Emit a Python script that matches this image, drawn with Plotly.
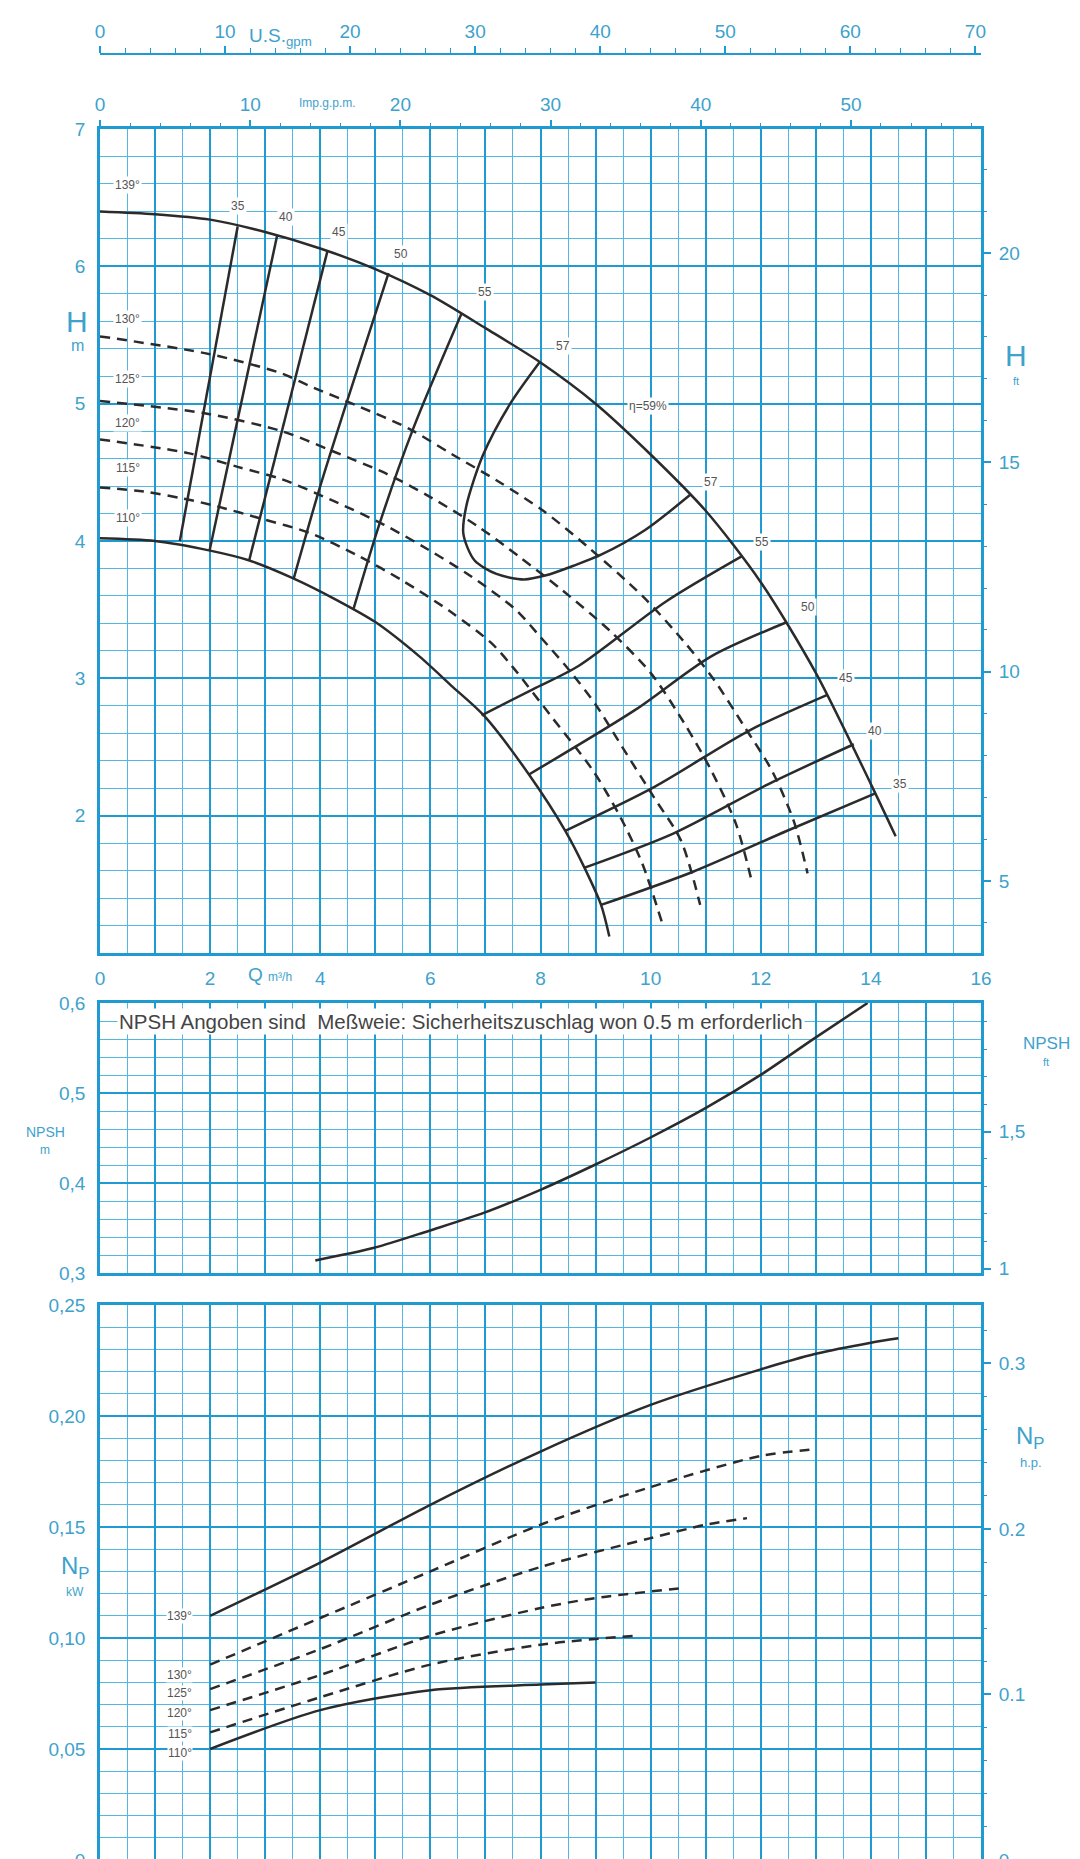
import plotly.graph_objects as go

W, H = 1080, 1859
OFF = 8  # page body margin in the browser

# ---- H-Q curves (Q in m3/h, H in m) ----
dia_labels = ['139°', '130°', '125°', '120°', '115°', '110°']
dia_label_h = [6.59, 5.62, 5.18, 4.86, 4.53, 4.17]

q_139 = [0, 1, 2, 3, 4, 5, 6, 7, 8, 9, 10, 11, 12, 13, 14, 14.45]
h_139 = [6.40, 6.38, 6.34, 6.25, 6.13, 5.98, 5.79, 5.55, 5.30, 5.00, 4.63, 4.22, 3.70, 3.04, 2.23, 1.85]

q_130 = [0, 2, 3.3, 3.8, 4.7, 5.6, 6.4, 7.25, 8.05, 8.85, 9.85, 10.6, 11.15, 11.7, 12.2, 12.6, 12.85]
h_130 = [5.49, 5.36, 5.22, 5.13, 4.98, 4.82, 4.63, 4.43, 4.22, 3.96, 3.60, 3.27, 2.99, 2.65, 2.33, 1.96, 1.58]

q_125 = [0, 1.9, 3.3, 4.25, 5.2, 6.0, 6.85, 7.6, 8.4, 9.25, 10.0, 10.6, 11.1, 11.55, 11.85]
h_125 = [5.02, 4.93, 4.80, 4.65, 4.49, 4.32, 4.11, 3.89, 3.64, 3.35, 3.04, 2.68, 2.33, 1.94, 1.50]

q_120 = [0, 1.6, 2.5, 3.3, 4.25, 5.15, 5.95, 6.75, 7.55, 8.0, 8.5, 9.0, 9.5, 10.05, 10.55, 10.9]
h_120 = [4.74, 4.64, 4.54, 4.45, 4.29, 4.12, 3.94, 3.74, 3.50, 3.30, 3.07, 2.81, 2.49, 2.14, 1.82, 1.35]

q_115 = [0, 0.8, 1.5, 2.05, 2.95, 3.8, 4.7, 5.5, 6.35, 7.1, 7.5, 8.2, 8.95, 9.45, 9.85, 10.2]
h_115 = [4.39, 4.36, 4.31, 4.26, 4.16, 4.06, 3.89, 3.71, 3.49, 3.26, 3.08, 2.72, 2.33, 1.99, 1.65, 1.23]

q_110 = [0, 1, 2, 2.7, 3.5, 4.3, 5.0, 5.8, 6.4, 6.97, 7.79, 8.45, 8.8, 9.1, 9.25]
h_110 = [4.02, 4.00, 3.93, 3.86, 3.73, 3.57, 3.41, 3.16, 2.94, 2.73, 2.30, 1.89, 1.62, 1.35, 1.12]

# ---- iso-efficiency lines ----
eta_left_q = [[2.5, 1.45], [3.22, 1.99], [4.13, 2.71], [5.24, 4.48, 4.0, 3.52], [6.57, 5.69, 5.08, 4.6]]
eta_left_h = [[6.29, 4.0], [6.23, 3.93], [6.11, 3.86], [5.95, 5.01, 4.40, 3.73], [5.66, 4.82, 4.13, 3.50]]
eta_right_q = [[9.1, 10.76, 12.48, 14.07], [8.79, 10.41, 12.14, 13.69], [8.45, 10.07, 11.79, 13.21],
               [7.79, 9.72, 11.1, 12.48], [6.93, 7.86, 8.69, 10.28, 11.66]]
eta_right_h = [[1.35, 1.59, 1.89, 2.16], [1.62, 1.87, 2.23, 2.52], [1.89, 2.21, 2.62, 2.88],
               [2.30, 2.77, 3.16, 3.41], [2.73, 2.92, 3.09, 3.56, 3.89]]
q_57 = [7.98, 7.45, 6.95, 6.65, 6.6, 6.8, 7.2, 7.7, 8.1, 8.6, 9.1, 9.9, 10.73]
h_57 = [5.30, 5.00, 4.62, 4.25, 4.05, 3.86, 3.76, 3.72, 3.75, 3.82, 3.90, 4.08, 4.34]

eta_tag_text = ['35', '40', '45', '50', '55', '57', 'η=59%', '57', '55', '50', '45', '40', '35']
eta_tag_q = [2.5, 3.37, 4.34, 5.47, 7.0, 8.4, 9.96, 11.1, 12.03, 12.86, 13.55, 14.07, 14.52]
eta_tag_h = [6.44, 6.36, 6.25, 6.09, 5.81, 5.42, 4.98, 4.43, 3.99, 3.52, 3.0, 2.62, 2.23]

# ---- NPSH (m) ----
npsh_q = [3.91, 4.98, 5.98, 6.98, 8.02, 8.98, 9.98, 11.02, 12.02, 12.98, 13.94]
npsh_m = [0.314, 0.328, 0.347, 0.367, 0.393, 0.42, 0.45, 0.484, 0.521, 0.561, 0.6]
npsh_note = 'NPSH Angoben sind  Meßweie: Sicherheitszuschlag won 0.5 m erforderlich'

# ---- power (kW) ----
p_q_139 = [2, 4, 6, 8, 10, 12, 13, 14, 14.5]
p_139 = [0.110, 0.134, 0.160, 0.184, 0.205, 0.221, 0.228, 0.233, 0.235]
p_q_130 = [2, 4, 6, 8, 10, 12, 13]
p_130 = [0.088, 0.109, 0.130, 0.151, 0.168, 0.182, 0.185]
p_q_125 = [2, 4, 6, 8, 10, 11, 11.75]
p_125 = [0.077, 0.095, 0.115, 0.132, 0.145, 0.151, 0.154]
p_q_120 = [2, 4, 6, 8, 9, 10.6]
p_120 = [0.0675, 0.0833, 0.1010, 0.1135, 0.118, 0.1225]
p_q_115 = [2, 4, 6, 8, 9.7]
p_115 = [0.0575, 0.0733, 0.0880, 0.0970, 0.101]
p_q_110 = [2, 4, 6, 8, 9]
p_110 = [0.050, 0.0675, 0.0765, 0.0790, 0.080]
p_label_n = [0.110, 0.0833, 0.0753, 0.066, 0.0567, 0.0483]

# ---- axis ticks ----
q_ticks = list(range(17))
q_ticktext = [str(v) if v % 2 == 0 else '' for v in q_ticks]
h_ticks = [2, 3, 4, 5, 6, 7]
h_ft_ticks = [5, 10, 15, 20]
us_ticks = [0, 10, 20, 30, 40, 50, 60, 70]
imp_ticks = [0, 10, 20, 30, 40, 50]
npsh_ticks = [0.3, 0.4, 0.5, 0.6]
npsh_text = ['0,3', '0,4', '0,5', '0,6']
npsh_ft_ticks = [1, 1.5]
npsh_ft_text = ['1', '1,5']
kw_ticks = [0, 0.05, 0.10, 0.15, 0.20, 0.25]
kw_text = ['0', '0,05', '0,10', '0,15', '0,20', '0,25']
hp_ticks = [0, 0.1, 0.2, 0.3]
hp_text = ['0', '0.1', '0.2', '0.3']

M3H_TO_USGPM = 4.4029
M3H_TO_IMPGPM = 3.6662
M_TO_FT = 3.28084
KW_TO_HP = 1 / 0.7457

ink = '#2b2b2b'
blue_txt = '#3ea2cc'
grid_major = '#1f9bd2'
grid_minor = '#52b8e3'
frame = '#1f9bd2'
FONT = 'Liberation Sans'


def pxx(p):
    return (p - OFF) / W


def pyy(p):
    return 1 - (p - OFF) / H


xdom = [pxx(100), pxx(981)]
main_dom = [pyy(953), pyy(129)]
npsh_dom = [pyy(1273), pyy(1003)]
pow_dom = [max(0, pyy(1860)), pyy(1305)]

fig = go.Figure()


def curve(x, y, xa, ya, dash='solid'):
    fig.add_trace(go.Scatter(x=x, y=y, mode='lines', xaxis=xa, yaxis=ya, hoverinfo='skip',
                             line=dict(color=ink, width=2.5, shape='spline', smoothing=0.8,
                                       dash=dash)))


def anchor_trace(x, y, xa, ya):
    # invisible points so the secondary scales get drawn
    fig.add_trace(go.Scatter(x=x, y=y, mode='markers', xaxis=xa, yaxis=ya, hoverinfo='skip',
                             marker=dict(opacity=0, size=1)))


dash_pat = '10px,7px'
curve(q_139, h_139, 'x', 'y')
curve(q_110, h_110, 'x', 'y')
for q, h in [(q_130, h_130), (q_125, h_125), (q_120, h_120), (q_115, h_115)]:
    curve(q, h, 'x', 'y', dash_pat)
for q, h in zip(eta_left_q, eta_left_h):
    curve(q, h, 'x', 'y')
for q, h in zip(eta_right_q, eta_right_h):
    curve(q, h, 'x', 'y')
curve(q_57, h_57, 'x', 'y')

curve(npsh_q, npsh_m, 'x4', 'y3')

curve(p_q_139, p_139, 'x5', 'y5')
curve(p_q_110, p_110, 'x5', 'y5')
for q, p in [(p_q_130, p_130), (p_q_125, p_125), (p_q_120, p_120), (p_q_115, p_115)]:
    curve(q, p, 'x5', 'y5', dash_pat)

anchor_trace([0, 16 * M3H_TO_IMPGPM], [4, 4], 'x2', 'y')
anchor_trace([0, 16 * M3H_TO_USGPM], [4, 4], 'x3', 'y')
anchor_trace([1, 1], [1 * M_TO_FT, 7 * M_TO_FT], 'x', 'y2')
anchor_trace([1, 1], [0.3 / 0.3048, 0.6 / 0.3048], 'x4', 'y4')
anchor_trace([1, 1], [0, 0.25 * KW_TO_HP], 'x5', 'y6')

tickfont = dict(family=FONT, size=19, color=blue_txt)


def q_axis(anchor, labels=False):
    return dict(domain=xdom, anchor=anchor, range=[0, 16], tickvals=q_ticks,
                ticktext=q_ticktext, showticklabels=labels, ticks='', tickfont=tickfont,
                ticklabelstandoff=6,
                showgrid=True, gridcolor=grid_major, gridwidth=2,
                minor=dict(tick0=0, dtick=0.5, showgrid=True, gridcolor=grid_minor, gridwidth=1),
                showline=True, mirror=True, linecolor=frame, linewidth=2.5,
                zeroline=False, automargin=False)


def val_axis(dom, anchor, rng, tickvals, ticktext, minor_dtick):
    return dict(domain=dom, anchor=anchor, range=rng, tickvals=tickvals, ticktext=ticktext,
                ticks='', tickfont=tickfont, ticklabelstandoff=8, ticklabeloverflow='allow',
                showgrid=True, gridcolor=grid_major, gridwidth=2,
                minor=dict(tick0=rng[0], dtick=minor_dtick, showgrid=True,
                           gridcolor=grid_minor, gridwidth=1),
                showline=True, mirror=True, linecolor=frame, linewidth=2.5,
                zeroline=False, automargin=False)


def side_axis(over, rng, tickvals, ticktext, minor_dtick, side='right', ticklen=9, standoff=4):
    return dict(overlaying=over, side=side, range=rng, tickvals=tickvals, ticktext=ticktext,
                ticks='outside', ticklen=ticklen, tickwidth=1.5, tickcolor=frame,
                tickfont=tickfont, ticklabelstandoff=standoff, ticklabeloverflow='allow',
                minor=dict(tick0=0, dtick=minor_dtick, ticks='outside', ticklen=5,
                           tickwidth=1, tickcolor=frame),
                showgrid=False, zeroline=False, showline=False, automargin=False)


fig.update_layout(
    width=W, height=H, autosize=False,
    margin=dict(l=0, r=0, t=0, b=0, pad=0),
    paper_bgcolor='white', plot_bgcolor='white',
    separators=',.', showlegend=False,
    font=dict(family=FONT, color=blue_txt),
    xaxis=q_axis('y', labels=True),
    yaxis=val_axis(main_dom, 'x', [1, 7], h_ticks, [str(v) for v in h_ticks], 0.2),
    yaxis2=dict(side_axis('y', [1 * M_TO_FT, 7 * M_TO_FT], h_ft_ticks,
                          [str(v) for v in h_ft_ticks], 1), anchor='x'),
    xaxis2=dict(side_axis('x', [0, 16 * M3H_TO_IMPGPM], imp_ticks,
                          [str(v) for v in imp_ticks], 2, side='top', ticklen=8, standoff=1),
                anchor='y', domain=xdom),
    xaxis3=dict(side_axis('x', [0, 16 * M3H_TO_USGPM], us_ticks,
                          [str(v) for v in us_ticks], 2, side='top', ticklen=7, standoff=0),
                anchor='free', position=pyy(54), domain=xdom,
                showline=True, linecolor=frame, linewidth=2),
    xaxis4=q_axis('y3'),
    yaxis3=val_axis(npsh_dom, 'x4', [0.3, 0.6], npsh_ticks, npsh_text, 0.02),
    yaxis4=dict(side_axis('y3', [0.3 / 0.3048, 0.6 / 0.3048], npsh_ft_ticks,
                          npsh_ft_text, 0.1), anchor='x4'),
    xaxis5=q_axis('y5'),
    yaxis5=val_axis(pow_dom, 'x5', [0, 0.25], kw_ticks, kw_text, 0.01),
    yaxis6=dict(side_axis('y5', [0, 0.25 * KW_TO_HP], hp_ticks, hp_text, 0.02), anchor='x5'),
)

ann = []
lab = dict(family=FONT, size=12, color='#555555')
for t, h in zip(dia_labels, dia_label_h):
    ann.append(dict(x=0.5, y=h, xref='x', yref='y', text=t, showarrow=False,
                    font=lab, bgcolor='white', borderpad=1))
for t, q, h in zip(eta_tag_text, eta_tag_q, eta_tag_h):
    ann.append(dict(x=q, y=h, xref='x', yref='y', text=t, showarrow=False,
                    font=lab, bgcolor='white', borderpad=1))
for t, n in zip(dia_labels, p_label_n):
    ann.append(dict(x=1.45, y=n, xref='x5', yref='y5', text=t, showarrow=False,
                    font=lab, bgcolor='white', borderpad=0))
ann.append(dict(x=0.3, y=0.579, xref='x4', yref='y3', text=npsh_note, showarrow=False,
                xanchor='left', font=dict(family=FONT, size=20.5, color='#444444'),
                bgcolor='white', borderpad=1))


def title(px, py_, text, size):
    ann.append(dict(x=pxx(px), y=pyy(py_), xref='paper', yref='paper', text=text,
                    xanchor='center', yanchor='middle', showarrow=False,
                    font=dict(family=FONT, size=size, color=blue_txt)))


title(280, 37, 'U.S.<sub>gpm</sub>', 19)
title(327, 103, 'Imp.g.p.m.', 12)
title(270, 975, 'Q <span style="font-size:12px">m³/h</span>', 19)
title(77, 322, 'H', 30)
title(77, 345, 'm', 16)
title(1016, 356, 'H', 30)
title(1016, 381, 'ft', 11)
title(45, 1132, 'NPSH', 14)
title(45, 1150, 'm', 12)
title(1046, 1043, 'NPSH', 17)
title(1046, 1062, 'ft', 11)
title(75, 1567, 'N<sub>P</sub>', 24)
title(75, 1592, 'kW', 12)
title(1030, 1437, 'N<sub>P</sub>', 24)
title(1031, 1462, 'h.p.', 13)

fig.update_layout(annotations=ann)
fig.write_html('out.html')
